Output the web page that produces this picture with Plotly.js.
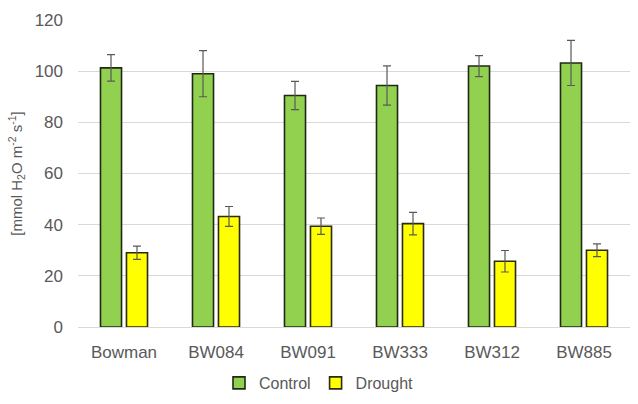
<!DOCTYPE html>
<html>
<head>
<meta charset="utf-8">
<script src="https://cdn.plot.ly/plotly-3.0.1.min.js"></script>
<style>html,body{margin:0;padding:0;background:#fff;}#chart{width:638px;height:404px;}</style>
</head>
<body>
<div id="chart"></div>
<script>
const categories = ["Bowman", "BW084", "BW091", "BW333", "BW312", "BW885"];
const controlValues = [101.3, 99, 90.5, 94.4, 102, 103.2];
const controlErrors = [5.2, 9, 5.5, 7.7, 4.1, 8.8];
const droughtValues = [29, 43.2, 39.4, 40.4, 25.7, 30];
const droughtErrors = [2.6, 3.9, 3.2, 4.4, 4.2, 2.5];
const yTicks = [0, 20, 40, 60, 80, 100, 120];

const errStyle = {type: 'data', visible: true, color: '#595959', thickness: 1.2, width: 4};

const traces = [
  {
    type: 'bar', name: 'Control', x: categories, y: controlValues,
    error_y: Object.assign({array: controlErrors}, errStyle),
    marker: {color: '#92D050', line: {color: '#1f2a14', width: 1.6}}
  },
  {
    type: 'bar', name: 'Drought', x: categories, y: droughtValues,
    error_y: Object.assign({array: droughtErrors}, errStyle),
    marker: {color: '#FFFF00', line: {color: '#2a2a10', width: 1.6}}
  }
];

const layout = {
  width: 638, height: 404,
  margin: {l: 78, r: 8, t: 20, b: 77},
  paper_bgcolor: '#fff', plot_bgcolor: '#fff',
  font: {family: 'Liberation Sans, Arial, sans-serif', color: '#595959', size: 17},
  barmode: 'group', bargap: 0.435, bargroupgap: 0.19,
  showlegend: true,
  legend: {orientation: 'h', x: 0.5, xref: 'container', xanchor: 'center', y: 0.052, yref: 'container', yanchor: 'middle',
           font: {size: 16, color: '#595959'}, itemwidth: 30, traceorder: 'normal'},
  xaxis: {
    automargin: false,
    showline: true, linecolor: '#d9d9d9', linewidth: 1, ticks: '',
    tickfont: {size: 17, color: '#595959'}, showgrid: false, ticklabelstandoff: 10
  },
  yaxis: {
    automargin: false,
    range: [0, 120], tickvals: yTicks, showgrid: true, gridcolor: '#d9d9d9', gridwidth: 1,
    zeroline: false, showline: false, ticks: '', ticklen: 0, ticklabelstandoff: 14,
    tickfont: {size: 17, color: '#595959'},
    title: {text: '[mmol H<sub>2</sub>O m<sup>-2</sup> s<sup>-1</sup>]', font: {size: 15, color: '#595959'}, standoff: 8}
  }
};

Plotly.newPlot('chart', traces, layout, {displayModeBar: false, staticPlot: true});
</script>
</body>
</html>
